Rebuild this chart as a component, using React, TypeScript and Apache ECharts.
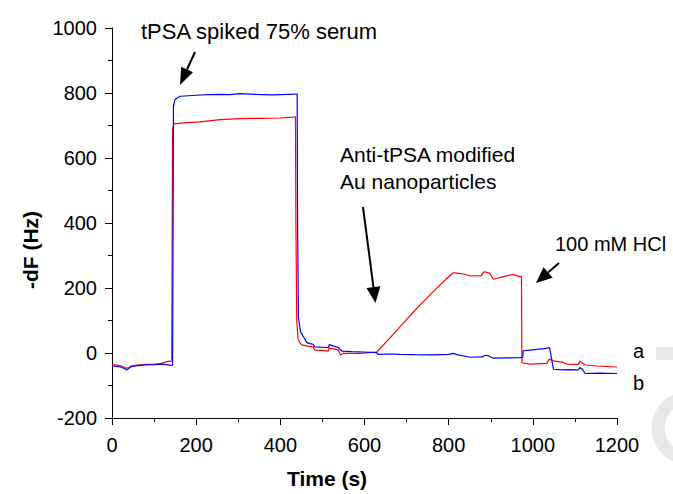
import React, { useEffect, useRef } from "react";
import * as echarts from "echarts";

const xTicks = [0, 200, 400, 600, 800, 1000, 1200];
const yTicks = [-200, 0, 200, 400, 600, 800, 1000];

const blueTime = [0, 10, 20, 28, 36, 46, 60, 80, 100, 117, 130, 140, 144, 146, 150, 162, 200, 230, 257, 280, 304, 340, 380, 420, 440, 441, 443, 448, 455, 463, 470, 478, 482, 495, 510, 514, 516, 525, 538, 546, 570, 597, 629, 632, 660, 684, 720, 760, 800, 811, 820, 851, 880, 886, 895, 906, 940, 969, 976, 977, 993, 1010, 1033, 1037, 1040, 1049, 1072, 1090, 1108, 1112, 1118, 1124, 1160, 1200];
const blueValue = [-40, -41, -43, -47, -52, -42, -39, -37, -36, -34, -36, -38, -37, 760, 781, 790, 793, 795, 796, 795, 798, 796, 794, 796, 797, 400, 110, 65, 50, 32, 29, 27, 19, 18, 17, 17, 26, 22, 17, 6, 4, 3, 1, -4, -3, -4, -5, -6, -4, -1, -5, -13, -12, -7, -9, -16, -15, -14, -13, 7, 9, 11, 14, 17, 15, -50, -52, -51, -52, -45, -50, -63, -62, -63];

const redTime = [0, 10, 20, 28, 36, 46, 60, 80, 100, 117, 125, 133, 140, 142, 144, 147, 170, 209, 257, 304, 350, 400, 430, 436, 437, 439, 442, 446, 451, 465, 478, 482, 500, 514, 516, 530, 538, 543, 550, 589, 610, 629, 660, 692, 712, 732, 752, 771, 791, 811, 820, 835, 851, 878, 882, 886, 898, 906, 930, 953, 969, 973, 974, 993, 1033, 1039, 1049, 1072, 1080, 1108, 1112, 1124, 1152, 1200];
const redValue = [-36, -37, -39, -43, -47, -40, -37, -35, -35, -32, -29, -26, -25, -25, 690, 705, 708, 711, 718, 721, 722, 723, 726, 727, 400, 100, 45, 32, 25, 21, 19, 9, 8, 6, 15, 12, 9, -6, -1, -1, 1, 3, 46, 91, 120, 148, 174, 199, 224, 247, 246, 243, 237, 238, 248, 250, 245, 227, 235, 242, 235, 235, -30, -34, -32, -19, -24, -29, -34, -35, -25, -37, -40, -43];

const FONT = "'Liberation Sans', Arial, sans-serif";

function zip(t: number[], v: number[]) {
  return t.map((x, i) => [x, v[i]]);
}

function arrow(x1: number, y1: number, x2: number, y2: number, headLen: number, halfW: number) {
  const dx = x2 - x1;
  const dy = y2 - y1;
  const len = Math.sqrt(dx * dx + dy * dy);
  const ux = dx / len;
  const uy = dy / len;
  const bx = x2 - ux * headLen;
  const by = y2 - uy * headLen;
  const px = -uy;
  const py = ux;
  return [
    {
      type: "line",
      shape: { x1, y1, x2: bx, y2: by },
      style: { stroke: "#000", lineWidth: 2 },
      silent: true,
    },
    {
      type: "polygon",
      shape: {
        points: [
          [x2, y2],
          [bx + px * halfW, by + py * halfW],
          [bx - px * halfW, by - py * halfW],
        ],
      },
      style: { fill: "#000" },
      silent: true,
    },
  ];
}

function txt(text: string, x: number, y: number, size: number, extra: any = {}) {
  return {
    type: "text",
    x,
    y,
    silent: true,
    ...extra,
    style: {
      text,
      fontSize: size,
      fontFamily: FONT,
      fill: "#000",
      align: "left",
      verticalAlign: "middle",
      ...(extra.style || {}),
    },
  };
}

export default function App() {
  const ref = useRef<HTMLDivElement>(null);
  useEffect(() => {
    if (!ref.current) return;
    const chart = echarts.init(ref.current, undefined, { renderer: "svg" });
    const axisCommon = {
      type: "value",
      splitLine: { show: false },
      axisLine: { show: true, onZero: false, lineStyle: { color: "#000", width: 1 } },
      axisTick: { show: true, length: 7, lineStyle: { color: "#000", width: 1 } },
      minorTick: { show: true, splitNumber: 2, length: 4, lineStyle: { color: "#000", width: 1 } },
    };
    const fmt = (v: number) => String(v);
    chart.setOption({
      animation: false,
      backgroundColor: "#fff",
      grid: { left: 112, right: 56, top: 28, bottom: 76, containLabel: false },
      xAxis: {
        ...axisCommon,
        min: xTicks[0],
        max: xTicks[xTicks.length - 1],
        interval: 200,
        axisLabel: { color: "#000", fontSize: 20, fontFamily: FONT, margin: 17, formatter: fmt },
      },
      yAxis: {
        ...axisCommon,
        min: yTicks[0],
        max: yTicks[yTicks.length - 1],
        interval: 200,
        axisLabel: { color: "#000", fontSize: 20, fontFamily: FONT, margin: 15, formatter: fmt },
      },
      series: [
        {
          type: "line",
          name: "a",
          data: zip(redTime, redValue),
          showSymbol: false,
          symbol: "none",
          lineStyle: { color: "#ff0000", width: 1.2 },
          silent: true,
        },
        {
          type: "line",
          name: "b",
          data: zip(blueTime, blueValue),
          showSymbol: false,
          symbol: "none",
          lineStyle: { color: "#0000ff", width: 1.2 },
          silent: true,
        },
      ],
      graphic: [
        { type: "rect", shape: { x: 656, y: 347, width: 17, height: 13 }, style: { fill: "#e8e8e8" }, silent: true, z: -1 },
        {
          type: "arc",
          shape: { cx: 688, cy: 428, r: 30, startAngle: Math.PI * 0.6, endAngle: Math.PI * 1.4 },
          style: { stroke: "#e8e8e8", lineWidth: 13, fill: "none" },
          silent: true,
          z: -1,
        },
        txt("-dF (Hz)", 30, 250, 21, { rotation: Math.PI / 2, style: { fontWeight: "bold", align: "center" } }),
        txt("Time (s)", 327, 478, 21, { style: { fontWeight: "bold", align: "center" } }),
        txt("tPSA spiked 75% serum", 141, 31, 22),
        txt("Anti-tPSA modified", 340, 154, 21),
        txt("Au nanoparticles", 340, 181, 21),
        txt("100 mM HCl", 555, 244, 20),
        txt("a", 633, 351, 20),
        txt("b", 633, 383, 20),
        ...arrow(195, 52, 180, 85, 17, 6.5),
        ...arrow(363, 207, 375.5, 303, 16, 7),
        ...arrow(559, 263, 536, 283, 16, 7),
      ],
    });
    return () => chart.dispose();
  }, []);
  return <div ref={ref} style={{ position: "absolute", left: 0, top: 0, width: 673, height: 494 }} />;
}
